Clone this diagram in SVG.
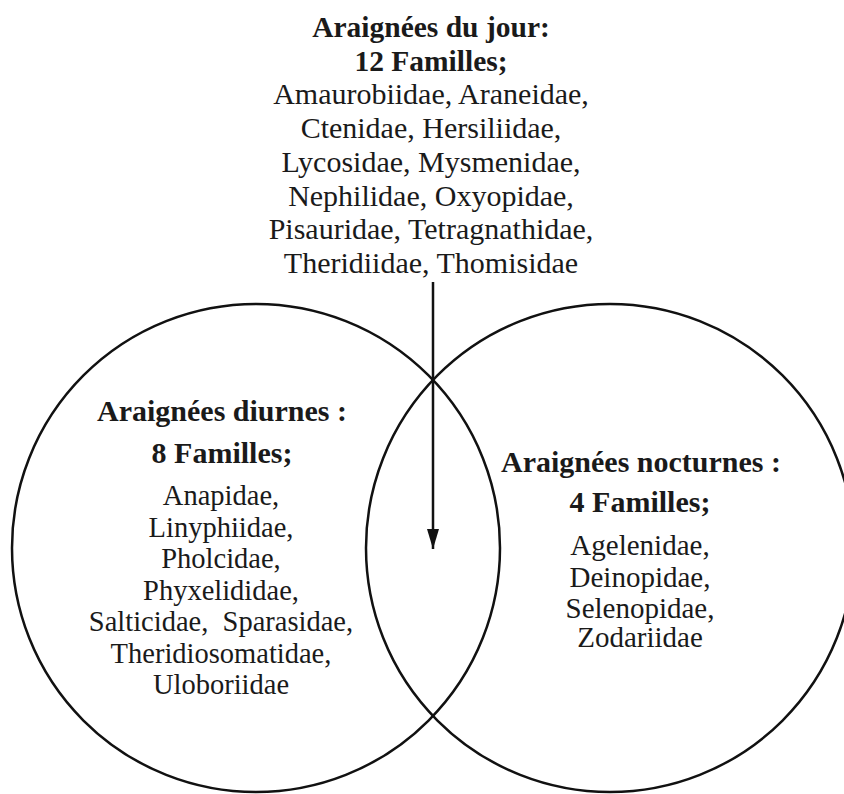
<svg xmlns="http://www.w3.org/2000/svg" width="844" height="794" viewBox="0 0 844 794">
<style>
text{font-family:"Liberation Serif","Times New Roman",serif;fill:#1a1a1a;text-anchor:middle;font-size:28.5px}
.b{font-weight:bold;font-size:30px}
.t{font-size:30px}
.tb{font-weight:bold;font-size:29.5px}
.r{font-size:29px}
.c{fill:none;stroke:#111;stroke-width:2.5}
</style>
<defs>
<marker id="ah" markerWidth="20" markerHeight="12" refX="20" refY="6" orient="auto" markerUnits="userSpaceOnUse" viewBox="0 0 20 12">
<path d="M0,0 L20,6 L0,12 Z" fill="#111"/>
</marker>
</defs>
<rect width="844" height="794" fill="#fff"/>
<g id="left-circle">
<circle class="c" cx="256" cy="548" r="244"/>
<text class="b" x="222" y="421">Araignées diurnes :</text>
<text class="b" x="222" y="463">8 Familles;</text>
<text x="221" y="505">Anapidae,</text>
<text x="221" y="536.5">Linyphiidae,</text>
<text x="221" y="568">Pholcidae,</text>
<text x="221" y="599.5">Phyxelididae,</text>
<text x="221" y="631" xml:space="preserve">Salticidae,  Sparasidae,</text>
<text x="221" y="662.5">Theridiosomatidae,</text>
<text x="221" y="694">Uloboriidae</text>
</g>
<g id="right-circle">
<circle class="c" cx="610" cy="548" r="244"/>
<text class="b" x="641" y="472">Araignées nocturnes :</text>
<text class="b" x="640" y="512">4 Familles;</text>
<text class="r" x="640" y="555">Agelenidae,</text>
<text class="r" x="640" y="587">Deinopidae,</text>
<text class="r" x="640" y="618">Selenopidae,</text>
<text class="r" x="640" y="647">Zodariidae</text>
</g>
<g id="top-label">
<text class="tb" x="431" y="37">Araignées du jour:</text>
<text class="tb" x="431" y="70.7">12 Familles;</text>
<text class="t" x="431" y="104.4">Amaurobiidae, Araneidae,</text>
<text class="t" x="431" y="138">Ctenidae, Hersiliidae,</text>
<text class="t" x="431" y="171.8">Lycosidae, Mysmenidae,</text>
<text class="t" x="431" y="205.5">Nephilidae, Oxyopidae,</text>
<text class="t" x="431" y="239.2">Pisauridae, Tetragnathidae,</text>
<text class="t" x="431" y="273">Theridiidae, Thomisidae</text>
</g>
<g id="connectors">
<line x1="433" y1="282" x2="433" y2="549" stroke="#111" stroke-width="2.5" marker-end="url(#ah)"/>
</g>
</svg>
